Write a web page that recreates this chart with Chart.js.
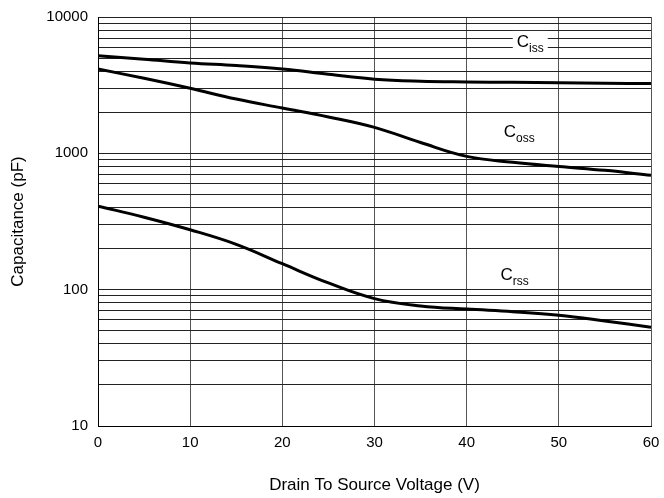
<!DOCTYPE html>
<html>
<head>
<meta charset="utf-8">
<script src="https://cdn.jsdelivr.net/npm/chart.js@4/dist/chart.umd.min.js"></script>
<style>
  body { margin: 0; background: #fff; }
  #wrap { width: 664px; height: 498px; }
</style>
</head>
<body>
<div id="wrap"><canvas id="myChart"></canvas></div>
<script>
const voltage = [0, 5, 10, 15, 20, 25, 30, 35, 40, 45, 50, 55, 60];
const ciss = [5200, 4900, 4600, 4400, 4150, 3800, 3500, 3380, 3340, 3320, 3300, 3270, 3250];
const coss = [4150, 3550, 3000, 2500, 2150, 1850, 1550, 1200, 950, 860, 800, 750, 690];
const crss = [410, 340, 275, 215, 155, 112, 86, 76, 72, 69, 65, 59, 53];
const yLabels = [10, 100, 1000, 10000];

// curve labels: [main, subscript, x value, y value]
const curveNames = [
  ['C', 'iss', 46.9, 6030],
  ['C', 'oss', 45.7, 1320],
  ['C', 'rss', 45.2, 118]
];

const FONT = '"Liberation Sans", Arial, sans-serif';

function pts(arr) {
  return voltage.map((v, i) => ({ x: v, y: arr[i] }));
}

function noPad(s) {
  s.paddingLeft = 0;
  s.paddingRight = 0;
  s.paddingTop = 0;
  s.paddingBottom = 0;
}

const labelPlugin = {
  id: 'curveLabels',
  afterDatasetsDraw(chart) {
    const c = chart.ctx;
    const xs = chart.scales.x, ys = chart.scales.y;
    c.save();
    c.textBaseline = 'alphabetic';
    curveNames.forEach(n => {
      const px = xs.getPixelForValue(n[2]);
      const py = ys.getPixelForValue(n[3]);
      c.font = '17px ' + FONT;
      const w1 = c.measureText(n[0]).width;
      c.font = '12px ' + FONT;
      const w2 = c.measureText(n[1]).width;
      const w = w1 + w2;
      c.fillStyle = '#fff';
      c.fillRect(px - w / 2 - 4, py - 16, w + 8, 24);
      c.fillStyle = '#000';
      c.font = '17px ' + FONT;
      c.fillText(n[0], px - w / 2, py);
      c.font = '12px ' + FONT;
      c.fillText(n[1], px - w / 2 + w1, py + 5);
    });
    c.restore();
  }
};

const ctx = document.getElementById('myChart');

new Chart(ctx, {
  type: 'line',
  data: {
    datasets: [
      { data: pts(ciss), borderColor: '#000', borderWidth: 3, pointRadius: 0, tension: 0.4, fill: false },
      { data: pts(coss), borderColor: '#000', borderWidth: 3, pointRadius: 0, tension: 0.4, fill: false },
      { data: pts(crss), borderColor: '#000', borderWidth: 3, pointRadius: 0, tension: 0.4, fill: false }
    ]
  },
  options: {
    responsive: true,
    maintainAspectRatio: false,
    animation: false,
    layout: { padding: { top: 17, right: 13, left: 0, bottom: 0 } },
    plugins: {
      legend: { display: false },
      tooltip: { enabled: false }
    },
    scales: {
      x: {
        type: 'linear',
        min: 0,
        max: 60,
        ticks: {
          stepSize: 10,
          color: '#000',
          padding: 8,
          font: { size: 15, family: FONT }
        },
        grid: { color: '#555', lineWidth: 1, drawTicks: false },
        border: { color: '#000', width: 1 },
        title: {
          display: true,
          text: 'Drain To Source Voltage (V)',
          color: '#000',
          font: { size: 17, family: FONT },
          padding: { top: 4, bottom: 2 }
        },
        afterFit(s) { s.height = 72; noPad(s); }
      },
      y: {
        type: 'logarithmic',
        min: 10,
        max: 10000,
        afterBuildTicks(s) {
          const t = [];
          for (let d = 10; d < 10000; d *= 10) {
            for (let k = 1; k < 10; k++) t.push({ value: k * d });
          }
          t.push({ value: 10000 });
          s.ticks = t;
        },
        ticks: {
          color: '#000',
          padding: 10,
          autoSkip: false,
          font: { size: 15, family: FONT },
          callback(v) { return yLabels.includes(v) ? String(v) : ''; }
        },
        grid: { color: '#222', lineWidth: 1, drawTicks: false },
        border: { color: '#000', width: 1 },
        title: {
          display: true,
          text: 'Capacitance (pF)',
          color: '#000',
          font: { size: 17, family: FONT },
          padding: { top: 8, bottom: 4 }
        },
        afterFit(s) { s.width = 98; noPad(s); }
      }
    }
  },
  plugins: [labelPlugin]
});
</script>
</body>
</html>
